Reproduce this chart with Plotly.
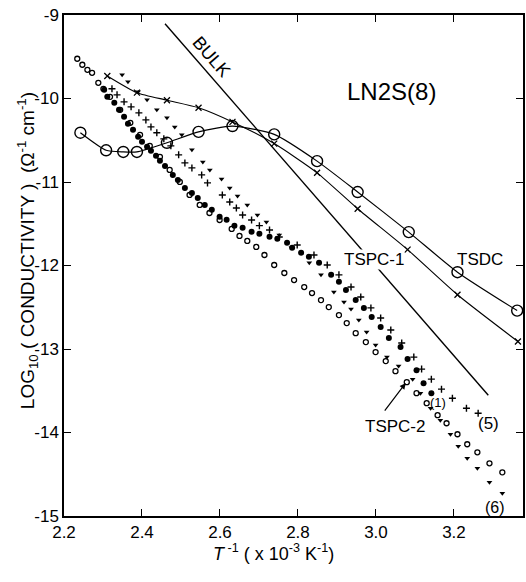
import plotly.graph_objects as go

# ---- data ----
bulk_x = [2.459, 3.288]
bulk_y = [-9.104, -13.553]

tsdc_x = [2.242, 2.308, 2.352, 2.387, 2.464, 2.545, 2.632, 2.739, 2.849, 2.953, 3.084, 3.209, 3.362]
tsdc_y = [-10.41, -10.62, -10.64, -10.64, -10.53, -10.40, -10.33, -10.43, -10.75, -11.12, -11.60, -12.08, -12.54]

tsdcx_x = [2.311, 2.387, 2.464, 2.545, 2.632, 2.739, 2.849, 2.953, 3.081, 3.209, 3.364]
tsdcx_y = [-9.73, -9.93, -10.02, -10.11, -10.28, -10.54, -10.89, -11.32, -11.81, -12.35, -12.91]

open_x = [2.234, 2.247, 2.260, 2.272, 2.288, 2.301, 2.318, 2.344, 2.370, 2.395,
          2.420, 2.446, 2.471, 2.497, 2.522, 2.548, 2.573, 2.599, 2.630, 2.650,
          2.670, 2.693, 2.714, 2.739, 2.765, 2.790, 2.816, 2.836, 2.859, 2.879,
          2.905, 2.925, 2.948, 2.974, 2.999, 3.025, 3.050, 3.079, 3.104, 3.130,
          3.158, 3.181, 3.209, 3.234, 3.260, 3.291, 3.324]
open_y = [-9.524, -9.596, -9.656, -9.692, -9.812, -9.884, -9.980, -10.136, -10.291, -10.435,
          -10.567, -10.699, -10.855, -10.999, -11.155, -11.275, -11.371, -11.455, -11.562, -11.646,
          -11.706, -11.778, -11.874, -11.994, -12.090, -12.174, -12.258, -12.330, -12.414, -12.498,
          -12.594, -12.690, -12.810, -12.917, -13.037, -13.145, -13.265, -13.397, -13.529, -13.649,
          -13.793, -13.889, -14.021, -14.141, -14.237, -14.369, -14.477]

filled_x = [2.303, 2.311, 2.329, 2.341, 2.354, 2.364, 2.377, 2.390, 2.400, 2.413,
            2.423, 2.436, 2.446, 2.459, 2.479, 2.492, 2.510, 2.528, 2.543, 2.561,
            2.579, 2.599, 2.617, 2.637, 2.658, 2.681, 2.701, 2.727, 2.747, 2.772,
            2.785, 2.808, 2.828, 2.854, 2.885, 2.905, 2.923, 2.948, 2.969, 2.989,
            3.012, 3.033, 3.063, 3.081, 3.104, 3.122, 3.142]
filled_y = [-9.896, -9.980, -10.052, -10.136, -10.219, -10.303, -10.375, -10.459, -10.519, -10.579,
            -10.627, -10.687, -10.747, -10.807, -10.915, -10.975, -11.071, -11.131, -11.191, -11.275,
            -11.331, -11.415, -11.451, -11.523, -11.547, -11.595, -11.619, -11.655, -11.679, -11.727,
            -11.787, -11.847, -11.895, -11.967, -12.112, -12.196, -12.292, -12.412, -12.508, -12.617,
            -12.737, -12.869, -12.977, -13.121, -13.253, -13.409, -13.529]

s5_x = [2.323, 2.336, 2.354, 2.372, 2.392, 2.410, 2.423, 2.438, 2.456, 2.474,
        2.494, 2.510, 2.528, 2.553, 2.568, 2.606, 2.625, 2.642, 2.658, 2.681,
        2.701, 2.727, 2.752, 2.798, 2.841, 2.875, 2.905, 2.936, 2.961, 2.987,
        3.012, 3.038, 3.066, 3.097, 3.117, 3.142, 3.168, 3.196, 3.232, 3.262]
s5_y = [-9.884, -9.956, -10.040, -10.100, -10.172, -10.256, -10.340, -10.411, -10.483, -10.567,
        -10.675, -10.771, -10.831, -10.915, -11.011, -11.155, -11.239, -11.311, -11.395, -11.455,
        -11.523, -11.575, -11.659, -11.754, -11.874, -11.994, -12.112, -12.258, -12.378, -12.508,
        -12.628, -12.772, -12.928, -13.097, -13.241, -13.361, -13.481, -13.589, -13.709, -13.769]

s6_x = [2.349, 2.364, 2.390, 2.413, 2.438, 2.464, 2.484, 2.502, 2.528, 2.556,
        2.574, 2.604, 2.625, 2.645, 2.670, 2.696, 2.719, 2.752, 2.783, 2.829,
        2.859, 2.892, 2.918, 2.936, 2.956, 2.976, 2.999, 3.028, 3.058, 3.094,
        3.114, 3.140, 3.165, 3.191, 3.211, 3.234, 3.260, 3.291, 3.324]
s6_y = [-9.716, -9.800, -9.920, -10.016, -10.136, -10.232, -10.340, -10.435, -10.615, -10.759,
        -10.855, -10.963, -11.071, -11.167, -11.275, -11.395, -11.479, -11.635, -11.787, -11.967,
        -12.112, -12.316, -12.436, -12.520, -12.652, -12.796, -12.952, -13.097, -13.205, -13.361,
        -13.529, -13.709, -13.853, -14.021, -14.165, -14.309, -14.429, -14.597, -14.729]

x_ticks = [2.2, 2.4, 2.6, 2.8, 3.0, 3.2]
x_ticklabels = ["2.2", "2.4", "2.6", "2.8", "3.0", "3.2"]
y_ticks = [-9, -10, -11, -12, -13, -14, -15]
y_ticklabels = ["-9", "-10", "-11", "-12", "-13", "-14", "-15"]

FONT = "Liberation Sans, Arial, sans-serif"

fig = go.Figure()

fig.add_trace(go.Scatter(x=bulk_x, y=bulk_y, mode="lines",
                         line=dict(color="black", width=1.4)))
fig.add_trace(go.Scatter(x=tsdc_x, y=tsdc_y, mode="lines+markers",
                         line=dict(color="black", width=1.2, shape="spline", smoothing=0.6),
                         marker=dict(symbol="circle-open", size=11, color="black",
                                     line=dict(color="black", width=1.4))))
fig.add_trace(go.Scatter(x=tsdcx_x, y=tsdcx_y, mode="lines+markers",
                         line=dict(color="black", width=1.1, shape="spline", smoothing=0.6),
                         marker=dict(symbol="x-thin-open", size=6, color="black",
                                     line=dict(color="black", width=1.3))))
fig.add_trace(go.Scatter(x=open_x, y=open_y, mode="markers",
                         marker=dict(symbol="circle-open", size=5, color="black",
                                     line=dict(color="black", width=1.3))))
fig.add_trace(go.Scatter(x=filled_x, y=filled_y, mode="markers",
                         marker=dict(symbol="circle", size=6, color="black")))
fig.add_trace(go.Scatter(x=s5_x, y=s5_y, mode="markers",
                         marker=dict(symbol="cross-thin-open", size=5, color="black",
                                     line=dict(color="black", width=1.4))))
fig.add_trace(go.Scatter(x=s6_x, y=s6_y, mode="markers",
                         marker=dict(symbol="triangle-down", size=5, color="black")))

ann = []
def label(text, x, y, size=18, **kw):
    ann.append(dict(text=text, x=x, y=y, xref="x", yref="y", showarrow=False,
                    xanchor="center", yanchor="middle",
                    font=dict(family=FONT, size=size, color="black"), **kw))

label("LN2S(8)", 3.040, -9.92, size=24)
label("TSPC-1", 2.994, -11.93, size=17, bgcolor="white", borderpad=0)
label("TSDC", 3.267, -11.93, size=17)
label("TSPC-2", 3.048, -13.925, size=17)
label("(1)", 3.160, -13.64, size=13)
label("(5)", 3.288, -13.89, size=17)
label("(6)", 3.306, -14.90, size=16)
label("BULK", 2.579, -9.50, size=18, textangle=49)

# TSPC-2 arrow
ann.append(dict(text="", x=3.076, y=-13.409, xref="x", yref="y", showarrow=True,
                ax=-22, ay=29, arrowhead=2, arrowsize=1, arrowwidth=1.2,
                arrowcolor="black"))

# axis titles
ann.append(dict(text="LOG<sub>10</sub> ( CONDUCTIVITY )  (Ω<sup>-1</sup> cm<sup>-1</sup>)",
                xref="paper", yref="paper", x=-0.078, y=0.529, showarrow=False,
                xanchor="center", yanchor="middle",
                textangle=-90, font=dict(family=FONT, size=19, color="black")))
ann.append(dict(text="<i>T</i><sup> -1</sup> ( x 10<sup>-3</sup> K<sup>-1</sup>)",
                xref="paper", yref="paper", x=0.4555, y=-0.0735, showarrow=False,
                xanchor="center", yanchor="middle",
                font=dict(family=FONT, size=18, color="black")))

fig.update_layout(
    width=526, height=582,
    margin=dict(l=64, r=1, t=15, b=66),
    paper_bgcolor="white", plot_bgcolor="white",
    showlegend=False,
    annotations=ann,
    xaxis=dict(range=[2.2, 3.377], tickvals=x_ticks, ticktext=x_ticklabels,
               ticks="inside", ticklen=7, tickwidth=1.3, tickcolor="black",
               showline=True, linecolor="black", linewidth=1.5, mirror="ticks",
               showgrid=False, zeroline=False,
               tickfont=dict(family=FONT, size=17, color="black")),
    yaxis=dict(range=[-15, -9], tickvals=y_ticks, ticktext=y_ticklabels,
               ticks="inside", ticklen=7, tickwidth=1.3, tickcolor="black",
               showline=True, linecolor="black", linewidth=1.5, mirror="ticks",
               showgrid=False, zeroline=False,
               tickfont=dict(family=FONT, size=17, color="black")),
)

fig.write_html("out.html")
